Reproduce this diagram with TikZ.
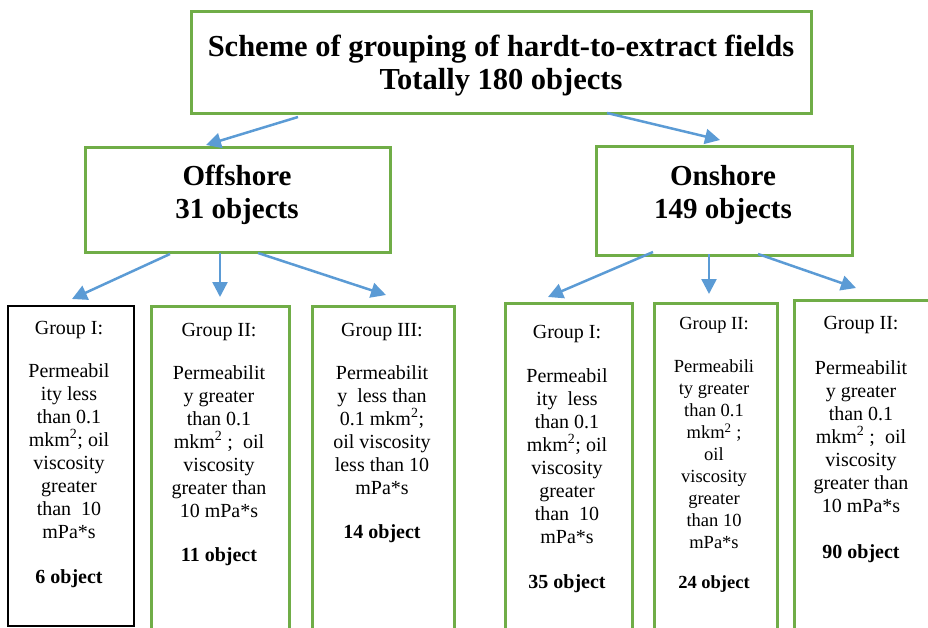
\documentclass[tikz,border=0pt]{standalone}
\usepackage{fontspec}
\setmainfont{Liberation Serif}
\usetikzlibrary{arrows.meta}
\definecolor{boxgreen}{HTML}{70AD47}
\definecolor{arrowblue}{HTML}{5B9BD5}
\begin{document}
\begin{tikzpicture}[x=1pt,y=-1pt,
  greenbox/.style={draw=boxgreen,line width=2.7pt,anchor=north west,inner sep=0pt},
  blackbox/.style={draw=black,line width=1.6pt,anchor=north west,inner sep=0pt},
  titletext/.style={font=\bfseries\fontsize{29}{33}\selectfont,align=center,anchor=north,inner sep=0pt},
  grouptext/.style={font=\fontsize{20}{23}\selectfont,align=center,anchor=north,inner sep=0pt},
  arr/.style={draw=arrowblue,line width=2.5pt,-{Triangle[length=15pt,width=15pt]}}]
\useasboundingbox (0,0) rectangle (928,628);
\begin{scope}
\clip (0,0) rectangle (928,628);
% boxes
\node[greenbox,minimum width=620pt,minimum height=102pt] (top) at (190,10) {};
\node[greenbox,minimum width=305pt,minimum height=105pt] (off) at (84,146) {};
\node[greenbox,minimum width=256pt,minimum height=109pt] (on) at (595,145) {};
\node[blackbox,minimum width=126pt,minimum height=320pt] (g1) at (7,305) {};
\node[greenbox,minimum width=138pt,minimum height=340pt] (g2) at (150,305) {};
\node[greenbox,minimum width=142pt,minimum height=340pt] (g3) at (311,305) {};
\node[greenbox,minimum width=127pt,minimum height=340pt] (h1) at (504,302) {};
\node[greenbox,minimum width=123pt,minimum height=340pt] (h2) at (653,302) {};
\node[greenbox,minimum width=150pt,minimum height=340pt] (h3) at (793,299) {};
\end{scope}
% titles
\node[titletext,font=\bfseries\fontsize{30.5}{33}\selectfont] (toptxt) at (501,35) {Scheme of grouping of hardt-to-extract fields\\Totally 180 objects};
\node[titletext] (offtxt) at (237,165) {Offshore\\31 objects};
\node[titletext] (ontxt) at (723,165) {Onshore\\149 objects};
% group texts
\node[grouptext] (g1txt) at (69,321) {Group I:\\[20pt]Permeabil\\ity less\\than 0.1\\mkm\textsuperscript{2}; oil\\viscosity\\greater\\than\ \ 10\\mPa*s\\[22pt]\textbf{6 object}};
\node[grouptext] (g2txt) at (219,323) {Group II:\\[20pt]Permeabilit\\y greater\\than 0.1\\mkm\textsuperscript{2}\ ;\ \ oil\\viscosity\\greater than\\10 mPa*s\\[21pt]\textbf{11 object}};
\node[grouptext] (g3txt) at (382,323) {Group III:\\[20pt]Permeabilit\\y\ \ less than\\0.1 mkm\textsuperscript{2};\\oil viscosity\\less than 10\\mPa*s\\[21pt]\textbf{14 object}};
\node[grouptext] (h1txt) at (567,325) {Group I:\\[21pt]Permeabil\\ity\ \ less\\than 0.1\\mkm\textsuperscript{2}; oil\\viscosity\\greater\\than\ \ 10\\mPa*s\\[22pt]\textbf{35 object}};
\node[grouptext,font=\fontsize{18.5}{22}\selectfont] (h2txt) at (714,317) {Group II:\\[21pt]Permeabili\\ty greater\\than 0.1\\mkm\textsuperscript{2}\ ;\\oil\\viscosity\\greater\\than 10\\mPa*s\\[18pt]\textbf{24 object}};
\node[grouptext] (h3txt) at (861,316) {Group II:\\[22pt]Permeabilit\\y greater\\than 0.1\\mkm\textsuperscript{2}\ ;\ \ oil\\viscosity\\greater than\\10 mPa*s\\[23pt]\textbf{90 object}};
% arrow ends
\coordinate (a1s) at (298,117); \coordinate (a1e) at (206,145);
\coordinate (a2s) at (607,113); \coordinate (a2e) at (720,140);
\coordinate (b1s) at (170,254); \coordinate (b1e) at (72,299);
\coordinate (b2s) at (220,253); \coordinate (b2e) at (220,297);
\coordinate (b3s) at (258,253); \coordinate (b3e) at (386,295);
\coordinate (c1s) at (653,252); \coordinate (c1e) at (548,297);
\coordinate (c2s) at (709,254); \coordinate (c2e) at (709,294);
\coordinate (c3s) at (758,254); \coordinate (c3e) at (856,288);
\draw[arr] (a1s) -- (a1e);
\draw[arr] (a2s) -- (a2e);
\draw[arr] (b1s) -- (b1e);
\draw[arr] (b2s) -- (b2e);
\draw[arr] (b3s) -- (b3e);
\draw[arr] (c1s) -- (c1e);
\draw[arr] (c2s) -- (c2e);
\draw[arr] (c3s) -- (c3e);
\end{tikzpicture}
\end{document}
